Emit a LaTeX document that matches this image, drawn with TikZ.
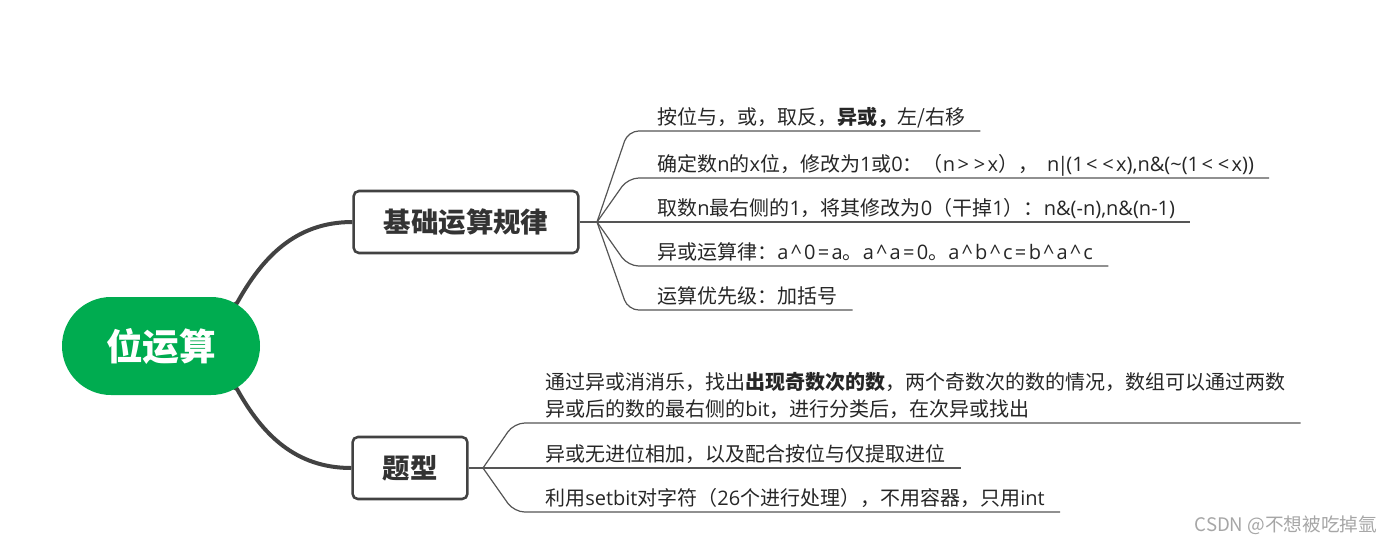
\documentclass[tikz,border=0pt]{standalone}
\usepackage{fontspec}
\setmainfont{Noto Sans CJK SC}
\newfontfamily\segfont{Open Sans}[Ligatures=NoCommon]
\newcommand\seg[1]{{\segfont #1}}
\newcommand\wop[1]{\kern1.8pt#1\kern1.8pt}
\usetikzlibrary{backgrounds}
\definecolor{rootgreen}{RGB}{0,172,80}
\definecolor{linegray}{RGB}{66,66,66}
\definecolor{twiggray}{RGB}{85,85,85}
\definecolor{textgray}{RGB}{51,51,51}

\begin{document}
\begin{tikzpicture}[x=0.75pt,y=-0.75pt,
  root node/.style={rectangle,rounded corners=36.75pt,fill=rootgreen,text=white,minimum height=73.5pt,inner xsep=33pt,font=\fontsize{27.5}{30}\selectfont\bfseries},
  main node/.style={rectangle,rounded corners=4pt,draw=linegray,line width=1.9pt,fill=white,minimum height=46.5pt,inner xsep=22.5pt,text=textgray,font=\fontsize{20.6}{24}\selectfont\bfseries},
  leaf node/.style={anchor=south west,inner xsep=11.25pt,inner ysep=5pt,text depth=0pt,align=left,text=black!85,font=\fontsize{15}{20.25}\selectfont},
  trunk/.style={line width=3pt,draw=linegray},
  twig/.style={line width=0.9pt,draw=twiggray,rounded corners=8pt}]
  \useasboundingbox (0,0) rectangle (1395,544);

  \node[root node] (Root) at (161,346) {位运算};
  \node[main node] (Basic) at (466,222) {基础运算规律};
  \node[main node] (Types) at (410,468) {题型};

  % first branch
  \node[leaf node] (L1) at (642,131) {按位与，或，取反，\textbf{异或，}左/右移};
  \node[leaf node] (L2) at (642,178) {确定数\seg{n}的\seg{x}位，修改为\seg{1}或\seg{0}：（\seg{n\wop{>}\wop{>}x}），\ \ \seg{n\kern-1.5pt|\kern-1.5pt(1\wop{<}\wop{<}x),n\&(\textasciitilde(1\wop{<}\wop{<}x))}};
  \node[leaf node] (L3) at (642,222) {取数\seg{n}最右侧的\seg{1}，将其修改为\seg{0}（干掉\seg{1}）：\seg{n\&(-n),n\&(n-1)}};
  \node[leaf node] (L4) at (642,266) {异或运算律：\seg{a\wop{\textasciicircum}0\wop{=}a}。\seg{a\wop{\textasciicircum}a\wop{=}0}。\seg{a\wop{\textasciicircum}b\wop{\textasciicircum}c\wop{=}b\wop{\textasciicircum}a\wop{\textasciicircum}c}};
  \node[leaf node] (L5) at (642,310) {运算优先级：加括号};

  % second branch
  \node[leaf node] (LA) at (530,423) {通过异或消消乐，找出\textbf{出现奇数次的数}，两个奇数次的数的情况，数组可以通过两数\\异或后的数的最右侧的\seg{bit}，进行分类后，在次异或找出};
  \node[leaf node] (LB) at (530,468) {异或无进位相加，以及配合按位与仅提取进位};
  \node[leaf node] (LC) at (530,512) {利用\seg{setbit}对字符（\seg{26}个进行处理），不用容器，只用\seg{int}};

  \coordinate (J1) at (597,222);
  \coordinate (J2) at (483,468);

  \begin{scope}[on background layer]
    \draw[trunk] (Root.center) -- (237,303) .. controls (262,258) and (295,222) .. (Basic.west);
    \draw[trunk] (Root.center) -- (237,389) .. controls (262,434) and (295,468) .. (Types.west);
  \end{scope}

  \draw[twig] (Basic.east) -- (J1);
  \foreach \n in {L1,L2,L4,L5}
    \draw[twig] (J1) -- ([xshift=-10.5pt]\n.south west) -- (\n.south east);
  \draw[twig] (J1) -- (L3.south east);

  \draw[twig] (Types.east) -- (J2);
  \foreach \n in {LA,LC}
    \draw[twig] (J2) -- ([xshift=-12pt]\n.south west) -- (\n.south east);
  \draw[twig] (J2) -- (LB.south east);

  \node[anchor=east,text=black!35,font=\fontsize{14}{16}\selectfont] (Mark) at (1382,525) {CSDN @不想被吃掉氩};
\end{tikzpicture}
\end{document}
